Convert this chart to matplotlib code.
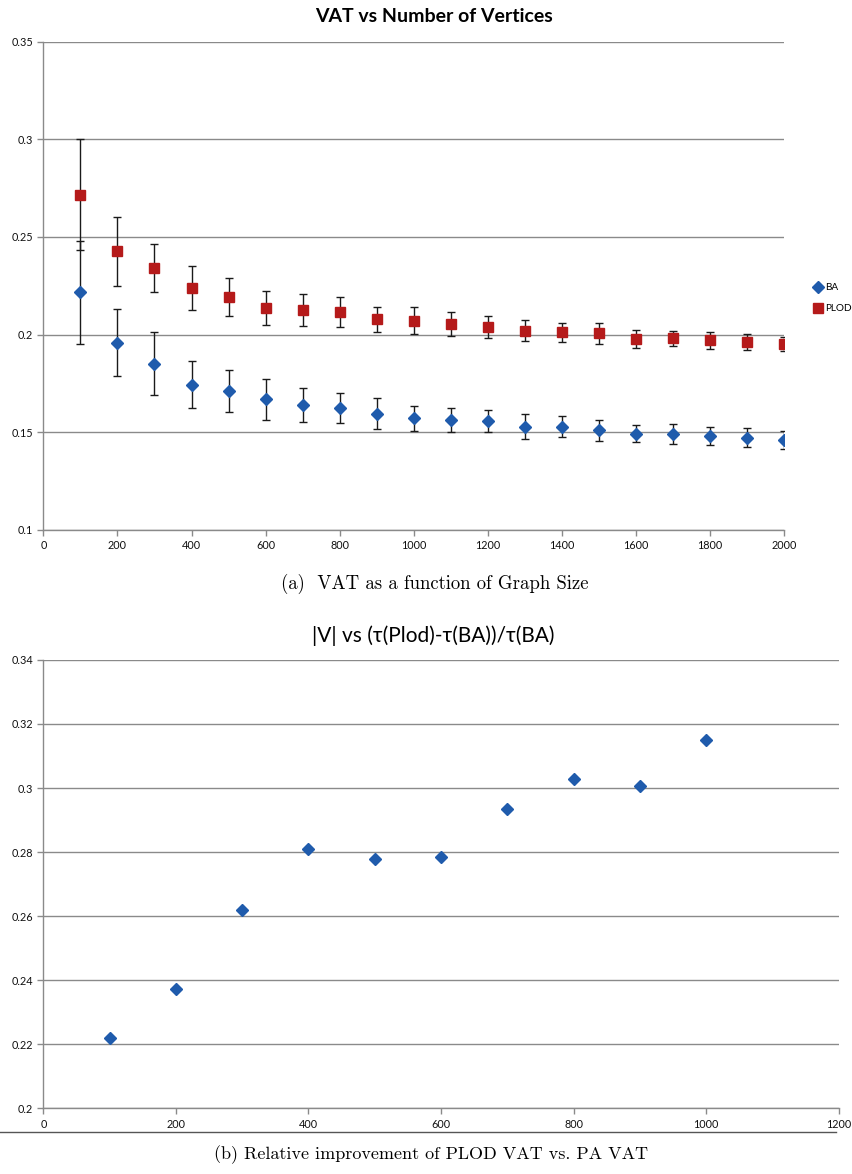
import matplotlib
matplotlib.use("Agg")
import matplotlib.pyplot as plt

# ---- data ----
vertices = [100, 200, 300, 400, 500, 600, 700, 800, 900, 1000,
            1100, 1200, 1300, 1400, 1500, 1600, 1700, 1800, 1900, 2000]
ba_vat = [0.2216, 0.1959, 0.1852, 0.1744, 0.1711, 0.1669, 0.1642, 0.1623, 0.1596, 0.1572,
          0.1563, 0.1558, 0.1529, 0.1529, 0.1510, 0.1493, 0.1493, 0.1483, 0.1473, 0.1463]
ba_err = [0.0264, 0.0170, 0.0160, 0.0122, 0.0107, 0.0106, 0.0087, 0.0077, 0.0080, 0.0064,
          0.0062, 0.0058, 0.0064, 0.0055, 0.0054, 0.0045, 0.0052, 0.0046, 0.0048, 0.0046]
plod_vat = [0.2717, 0.2426, 0.2341, 0.2240, 0.2191, 0.2136, 0.2126, 0.2116, 0.2078, 0.2070,
            0.2056, 0.2037, 0.2019, 0.2013, 0.2008, 0.1976, 0.1981, 0.1971, 0.1962, 0.1952]
plod_err = [0.0285, 0.0176, 0.0124, 0.0112, 0.0097, 0.0086, 0.0082, 0.0075, 0.0064, 0.0069,
            0.0062, 0.0056, 0.0054, 0.0049, 0.0054, 0.0046, 0.0040, 0.0042, 0.0039, 0.0037]

rel_vertices = [100, 200, 300, 400, 500, 600, 700, 800, 900, 1000]
rel_improvement = [0.2219, 0.2373, 0.2620, 0.2809, 0.2778, 0.2786, 0.2933, 0.3028, 0.3007, 0.3150]

BLUE = "#1f5bac"
RED = "#b51a1a"
GRID = "#8a8a8a"
UI_FONT = ["Lato", "DejaVu Sans"]
CAP_FONT = ["cmr10", "DejaVu Serif"]


def excel_style(ax, fs=7.8):
    ax.grid(axis="y", color=GRID, lw=1.0)
    ax.set_axisbelow(True)
    for s in ("top", "right"):
        ax.spines[s].set_visible(False)
    for s in ("left", "bottom"):
        ax.spines[s].set_color(GRID)
        ax.spines[s].set_linewidth(1.0)
    ax.tick_params(colors=GRID, length=4, width=1, labelcolor="#111", labelsize=fs)
    for lab in ax.get_xticklabels() + ax.get_yticklabels():
        lab.set_family(UI_FONT)


fig = plt.figure(figsize=(8.53, 11.74), dpi=100)

# ---- (a) VAT vs number of vertices ----
ax1 = fig.add_axes([0.0508, 0.5486, 0.8687, 0.4159])
ax1.errorbar(vertices, ba_vat, yerr=ba_err, fmt="none", ecolor="#1a1a1a",
             elinewidth=1.0, capsize=3, capthick=1.0, zorder=3)
ax1.errorbar(vertices, plod_vat, yerr=plod_err, fmt="none", ecolor="#1a1a1a",
             elinewidth=1.0, capsize=3, capthick=1.0, zorder=3)
ax1.plot(vertices, ba_vat, ls="none", marker="D", ms=5.8, color=BLUE,
         mec=BLUE, label="BA", zorder=4)
ax1.plot(vertices, plod_vat, ls="none", marker="s", ms=7.5, color=RED,
         mec=RED, label="PLOD", zorder=4)
ax1.set_xlim(0, 2000)
ax1.set_ylim(0.1, 0.35)
ax1.set_xticks(range(0, 2001, 200))
ax1.set_yticks([0.1, 0.15, 0.2, 0.25, 0.3, 0.35])
ax1.set_yticklabels(["0.1", "0.15", "0.2", "0.25", "0.3", "0.35"])
excel_style(ax1)
ax1.set_title("VAT vs Number of Vertices", family=UI_FONT, fontweight="bold",
              fontsize=14, pad=14, x=0.527)
ax1.legend(loc="center left", bbox_to_anchor=(1.035, 0.475), frameon=False,
           prop={"family": UI_FONT, "size": 7.2}, handlelength=0.8,
           handletextpad=0.3, labelspacing=1.2, borderaxespad=0)

fig.text(0.51, 1 - 584 / 1174, "(a)  VAT as a function of Graph Size",
         ha="center", va="center", family=CAP_FONT, fontsize=13.5)

# ---- (b) relative improvement ----
ax2 = fig.add_axes([0.0508, 0.0560, 0.9325, 0.3819])
ax2.plot(rel_vertices, rel_improvement, ls="none", marker="D", ms=5.8,
         color=BLUE, mec=BLUE, zorder=4)
ax2.set_xlim(0, 1200)
ax2.set_ylim(0.2, 0.34)
ax2.set_xticks(range(0, 1201, 200))
ax2.set_yticks([0.2, 0.22, 0.24, 0.26, 0.28, 0.3, 0.32, 0.34])
ax2.set_yticklabels(["0.2", "0.22", "0.24", "0.26", "0.28", "0.3", "0.32", "0.34"])
excel_style(ax2)
ax2.set_title("|V| vs (\u03c4(Plod)-\u03c4(BA))/\u03c4(BA)", family=UI_FONT,
              fontsize=15, pad=13, x=0.49)

fig.add_artist(plt.Line2D([0.0, 0.98], [1 - 1132 / 1174] * 2,
                          transform=fig.transFigure, color="#555", lw=1.0))
fig.text(0.505, 1 - 1155 / 1174, "(b) Relative improvement of PLOD VAT vs. PA VAT",
         ha="center", va="center", family=CAP_FONT, fontsize=13)

fig.savefig("out.png", dpi=100)
